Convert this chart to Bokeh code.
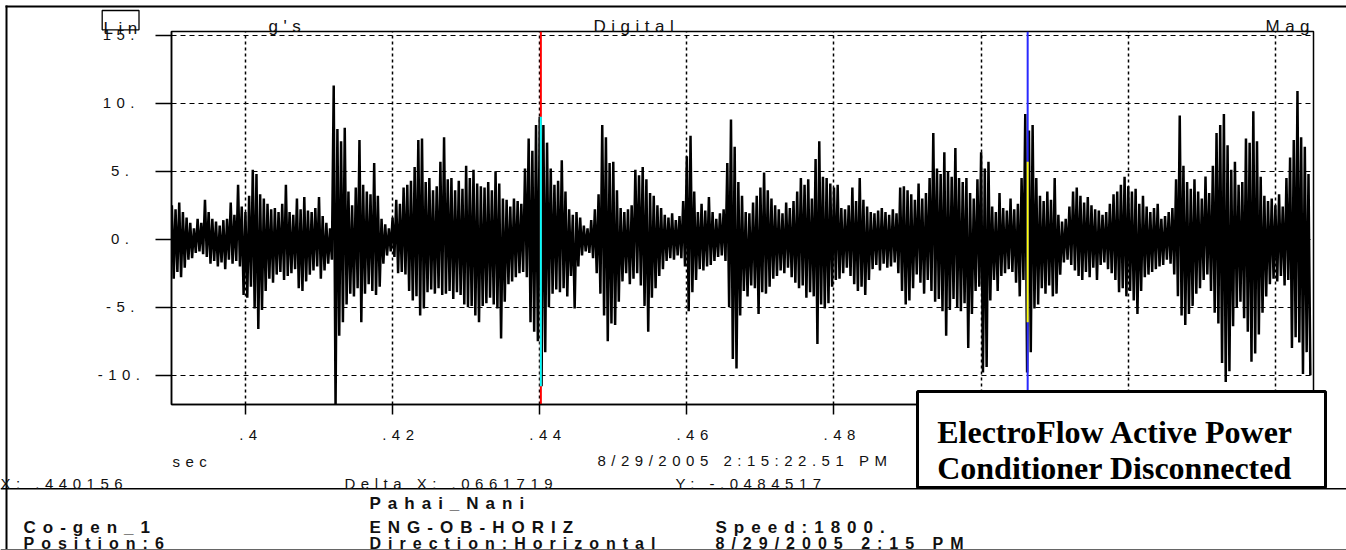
from bokeh.plotting import figure
from bokeh.models import Range1d, FixedTicker, Label, BoxAnnotation
from bokeh.embed import file_html
from bokeh.resources import INLINE

# ---------------- data ----------------
t_start = 0.390          # first envelope column (sec)
t_step = 0.0005          # column spacing (sec)

sig_hi = [
    2.5, 2.2, 2.7, 2.0, 1.6, 1.2, 0.8, 1.5, 1.2, 2.9,
    2.0, 1.5, 1.3, 1.0, 1.4, 1.5, 2.7, 1.8, 4.0, 2.4,
    2.0, 3.2, 5.1, 4.8, 3.3, 3.0, 2.6, 2.2, 2.3, 2.0,
    2.6, 4.0, 2.0, 1.8, 3.0, 2.2, 3.1, 2.1, 2.0, 2.3,
    3.1, 1.7, 1.2, 0.8, 11.3, 8.1, 7.2, 8.2, 3.5, 2.5,
    3.8, 7.3, 4.0, 3.5, 3.3, 5.6, 3.2, 1.5, 1.1, 0.8,
    1.6, 2.9, 2.6, 3.8, 4.0, 4.3, 5.3, 7.3, 7.4, 4.2,
    4.5, 3.6, 3.9, 5.7, 7.5, 4.4, 4.5, 3.6, 4.3, 3.7,
    5.4, 4.5, 5.1, 4.1, 3.9, 3.8, 4.2, 3.6, 5.0, 4.1,
    3.0, 2.9, 2.4, 3.0, 2.8, 2.6, 5.2, 7.4, 6.5, 8.4,
    9.0, 8.4, 7.1, 5.2, 4.0, 4.3, 5.8, 3.5, 2.2, 1.8,
    2.0, 1.6, 1.0, 0.8, 1.4, 2.2, 3.3, 8.4, 7.5, 5.6,
    5.7, 3.6, 2.3, 2.0, 2.2, 2.5, 5.1, 4.7, 5.3, 4.4,
    3.4, 3.2, 2.5, 2.3, 1.8, 1.6, 1.9, 1.4, 1.7, 2.8,
    6.1, 7.6, 3.5, 2.0, 2.6, 2.1, 3.1, 2.0, 1.5, 1.9,
    2.2, 5.6, 8.8, 6.8, 4.2, 3.2, 2.0, 1.9, 2.7, 3.2,
    3.8, 4.9, 3.6, 3.0, 2.5, 2.2, 1.9, 2.7, 2.3, 2.8,
    3.5, 4.5, 4.0, 4.4, 3.0, 5.9, 7.2, 4.6, 4.5, 4.1,
    3.8, 4.0, 2.3, 2.2, 2.5, 3.8, 2.8, 4.5, 2.9, 2.4,
    2.0, 1.9, 2.1, 2.3, 2.0, 1.8, 2.2, 1.9, 3.8, 3.9,
    3.6, 3.3, 2.9, 4.1, 3.0, 3.4, 4.5, 7.8, 5.2, 4.8,
    6.4, 5.0, 4.6, 6.7, 4.5, 4.2, 4.5, 3.4, 3.0, 4.4,
    6.4, 5.2, 5.7, 2.4, 2.0, 3.4, 2.3, 2.1, 3.0, 2.2,
    2.6, 4.5, 9.2, 8.0, 8.4, 4.5, 3.2, 2.8, 3.5, 2.9,
    4.5, 1.8, 1.3, 1.5, 2.4, 3.5, 3.8, 3.2, 2.7, 3.1,
    2.5, 2.2, 2.1, 1.8, 2.0, 2.6, 3.3, 3.5, 4.0, 4.6,
    3.9, 3.5, 3.7, 2.6, 3.2, 2.4, 2.0, 2.3, 2.6, 1.5,
    1.7, 2.0, 2.3, 4.4, 9.1, 5.4, 4.2, 3.7, 4.4, 3.5,
    3.0, 4.6, 3.4, 5.4, 7.8, 8.4, 9.2, 6.9, 5.1, 5.7,
    4.0, 4.2, 7.4, 7.1, 9.4, 7.2, 4.6, 3.2, 2.8, 3.0,
    2.5, 3.3, 2.4, 4.5, 6.0, 7.3, 10.9, 7.5, 6.8, 4.8,
]

sig_lo = [
    -2.9, -2.4, -2.8, -2.1, -1.5, -1.4, -1.0, -0.9, -1.1, -1.3,
    -1.8, -1.6, -2.0, -1.7, -2.2, -1.5, -1.8, -1.6, -2.0, -4.1,
    -4.3, -3.5, -5.1, -6.6, -5.2, -3.8, -2.9, -3.2, -2.6, -2.4,
    -3.0, -2.7, -2.5, -2.2, -3.6, -3.8, -3.1, -2.6, -2.3, -2.0,
    -2.9, -2.3, -1.8, -1.5, -12.5, -7.1, -6.1, -4.8, -4.0, -4.2,
    -3.6, -6.1, -4.0, -3.3, -3.8, -4.1, -3.5, -1.8, -1.2, -0.9,
    -1.3, -2.5, -2.4, -2.6, -3.8, -4.5, -4.2, -5.6, -5.1, -3.9,
    -3.7, -4.0, -3.6, -4.1, -4.0, -3.8, -4.4, -3.9, -4.1, -4.8,
    -5.0, -4.9, -5.6, -6.1, -4.9, -4.7, -4.3, -4.8, -5.1, -7.3,
    -4.6, -3.3, -3.1, -2.8, -2.5, -2.4, -2.8, -6.1, -6.8, -7.5,
    -10.8, -8.3, -5.0, -4.0, -3.7, -3.9, -3.6, -4.2, -2.7, -5.1,
    -2.0, -1.2, -0.9, -1.0, -1.4, -2.5, -4.0, -5.6, -7.5, -6.2,
    -6.3, -4.6, -3.1, -2.5, -3.3, -2.9, -2.5, -3.4, -4.9, -6.8,
    -4.3, -3.6, -2.7, -2.2, -1.6, -1.4, -1.5, -1.2, -1.4, -2.0,
    -5.3, -3.9, -3.0, -2.2, -2.3, -2.0, -1.9, -1.6, -1.3, -1.2,
    -1.6, -5.0, -8.8, -9.5, -5.6, -3.8, -4.2, -3.4, -3.6, -5.5,
    -3.9, -4.0, -3.5, -2.9, -2.7, -2.3, -2.5, -2.1, -2.8, -3.2,
    -3.6, -3.4, -4.3, -3.9, -4.2, -7.7, -4.8, -5.1, -4.7, -3.5,
    -3.0, -2.9, -2.5, -2.1, -2.7, -3.3, -3.8, -3.5, -4.1, -3.0,
    -2.2, -1.9, -2.3, -1.8, -2.1, -2.0, -1.7, -2.5, -3.8, -4.8,
    -4.5, -3.6, -2.6, -3.2, -4.0, -3.0, -3.8, -4.6, -4.4, -5.3,
    -7.1, -5.2, -4.4, -5.0, -5.3, -4.7, -8.0, -5.5, -3.8, -3.5,
    -9.8, -9.4, -4.5, -3.0, -3.8, -2.7, -2.5, -2.2, -2.4, -3.2,
    -4.2, -3.0, -9.8, -8.3, -5.1, -4.8, -3.6, -4.0, -3.4, -4.2,
    -4.0, -2.6, -1.7, -1.5, -1.9, -2.3, -2.7, -3.0, -2.4, -2.8,
    -2.1, -3.0, -1.9, -1.7, -2.2, -2.5, -3.0, -3.9, -3.6, -4.2,
    -3.8, -4.5, -5.5, -3.8, -2.8, -2.6, -2.4, -2.2, -2.0, -1.9,
    -1.5, -1.8, -2.6, -4.2, -5.6, -6.3, -5.5, -4.9, -4.0, -3.6,
    -3.0, -2.6, -3.8, -5.4, -6.2, -9.1, -10.5, -9.7, -6.4, -5.0,
    -4.6, -5.8, -6.8, -9.0, -8.4, -7.0, -5.4, -4.2, -3.3, -2.9,
    -3.1, -2.7, -3.4, -3.0, -8.0, -7.2, -7.6, -9.9, -8.3, -10.0,
]

x_ticks = [0.40, 0.42, 0.44, 0.46, 0.48, 0.50, 0.52, 0.54]
x_tick_labels = [".4", ".42", ".44", ".46", ".48", "", "", ""]
y_ticks = [-10, -5, 0, 5, 10, 15]
y_tick_labels = ["-10.", "-5.", "0.", "5.", "10.", "15."]

cursor_x = 0.440156
delta_x = 0.0661719
cursor_y = -0.0484517
cursor2_x = cursor_x + delta_x
cursor1_mark = (-10.8, 9.0)   # cyan part of first cursor
cursor2_mark = (-6.1, 5.7)    # yellow part of second cursor

# ---------------- layout ----------------
W, H = 1346, 550
FL, FR, FT, FB = 171, 1313, 31, 404
SANS = "Liberation Sans"
SERIF = "Liberation Serif"
xr = Range1d(0.38995, 0.54518)
yr = Range1d(-12.15, 15.27)

main = figure(width=W, height=H, output_backend="svg", toolbar_location=None,
              x_range=xr, y_range=yr,
              min_border_left=FL, min_border_right=W - FR,
              min_border_top=FT, min_border_bottom=H - FB,
              background_fill_color="white", border_fill_color="white",
              outline_line_color="black", outline_line_width=1.5,
              styles={"letter-spacing": "5.5px"})

main.xaxis.ticker = FixedTicker(ticks=x_ticks)
main.xaxis.major_label_overrides = {t: s for t, s in zip(x_ticks, x_tick_labels)}
main.yaxis.ticker = FixedTicker(ticks=y_ticks)
main.yaxis.major_label_overrides = {t: s for t, s in zip(y_ticks, y_tick_labels)}
for ax in (main.xaxis[0], main.yaxis[0]):
    ax.axis_line_color = "black"
    ax.axis_line_width = 1.5
    ax.major_tick_line_color = "black"
    ax.major_tick_line_width = 1.5
    ax.minor_tick_line_color = None
    ax.major_tick_in = 0
    ax.major_label_text_font = SANS
    ax.major_label_text_font_size = "15px"
    ax.major_label_text_color = "#111111"
main.xaxis.major_tick_out = 10
main.xaxis.major_label_standoff = 15
main.yaxis.major_tick_out = 16
main.yaxis.major_label_standoff = 32

main.xgrid.ticker = FixedTicker(ticks=x_ticks)
main.xgrid.grid_line_color = "black"
main.xgrid.grid_line_dash = "3 3"
main.xgrid.grid_line_width = 1.5
main.ygrid.ticker = FixedTicker(ticks=y_ticks)
main.ygrid.grid_line_color = "black"
main.ygrid.grid_line_dash = "5 4"
main.ygrid.grid_line_width = 1.2

# waveform: each envelope column drawn as an up/down stroke
ts, vs = [], []
for k, (hi, lo) in enumerate(zip(sig_hi, sig_lo)):
    t = t_start + k * t_step
    ts += [t, t + t_step / 2]
    vs += [hi, lo]
main.line(ts, vs, line_color="black", line_width=2.5)

# cursors (full-height line, brighter part where it crosses the trace)
for cx, (m0, m1), full_c, mark_c in ((cursor_x, cursor1_mark, "#ff0000", "#00ffff"),
                                     (cursor2_x, cursor2_mark, "#2a2aff", "#ffff00")):
    main.segment(x0=[cx], y0=[yr.start], x1=[cx], y1=[yr.end], line_color=full_c, line_width=2)
    main.segment(x0=[cx], y0=[m0], x1=[cx], y1=[m1], line_color=mark_c, line_width=2)


# transparent full-page overlays (separate roots) whose data coordinates equal page pixels
def overlay(spacing):
    return figure(width=W, height=H, output_backend="svg", toolbar_location=None,
                  x_range=Range1d(0, W), y_range=Range1d(H, 0),
                  x_axis_type=None, y_axis_type=None, min_border=0,
                  min_border_left=0, min_border_right=0,
                  min_border_top=0, min_border_bottom=0,
                  background_fill_color=None, border_fill_color=None,
                  outline_line_color=None,
                  styles={"letter-spacing": spacing, "position": "absolute",
                          "top": "0px", "left": "0px"})


def put(f, x, y, s, size, font=SANS, bold=False, align="left", color="#111111"):
    f.add_layout(Label(x=x, y=y, text=s, text_font=font, text_font_size=size,
                       text_font_style="bold" if bold else "normal", text_align=align,
                       text_baseline="alphabetic", text_color=color))


def box(f, l, r, t, b, fill=None, line=None, lw=1):
    f.add_layout(BoxAnnotation(left=l, right=r, top=t, bottom=b,
                               fill_color=fill if fill else "white",
                               fill_alpha=1 if fill else 0,
                               line_color=line, line_width=lw, line_alpha=1 if line else 0))


hdr = overlay("5.5px")
box(hdr, 5, 1346, 5, 7, fill="black")          # outer top border
box(hdr, 5, 7, 5, 550, fill="black")           # outer left border
box(hdr, 0, 1346, 487.5, 489, fill="black")    # separator
box(hdr, 0, 1346, 548.5, 549.5, fill="#666666")  # bottom edge
put(hdr, 103, 27.5, "Lin", "17px")
box(hdr, 101.7, 138.5, 10, 29.3, line="black", lw=1.3)
put(hdr, 268, 26, "g's", "17px")
put(hdr, 593, 26, "Digital", "17px")
put(hdr, 1265, 26, "Mag", "17px")
put(hdr, 172, 461, "sec", "15px")
put(hdr, 597, 460, "8/29/2005 2:15:22.51 PM", "15px")
put(hdr, 0, 483, "X: " + f"{cursor_x:.6f}"[1:], "15px")
put(hdr, 344, 483, "Delta X: " + f"{delta_x:.7f}"[1:], "15px")
put(hdr, 675, 483, "Y: -" + f"{abs(cursor_y):.7f}"[1:], "15px")

info = overlay("7px")
put(info, 369, 503, "Pahai_Nani", "17px", bold=True)
put(info, 23, 527, "Co-gen_1", "17px", bold=True)
put(info, 369, 527, "ENG-OB-HORIZ", "17px", bold=True)
put(info, 715, 527, "Speed:1800.", "17px", bold=True)
put(info, 23, 542.5, "Position:6", "16px", bold=True)
put(info, 369, 542.5, "Direction:Horizontal", "16px", bold=True)
put(info, 715, 542.5, "8/29/2005 2:15 PM", "16px", bold=True)

note = overlay("0px")
box(note, 917, 1325, 391, 487, fill="white", line="black", lw=3)
put(note, 1115, 431.7, "ElectroFlow Active Power", "32px", font=SERIF,
    bold=True, align="center", color="black")
put(note, 1114, 467.3, "Conditioner Disconnected", "32px", font=SERIF,
    bold=True, align="center", color="black")

open("out.html", "w").write(file_html([main, hdr, info, note], INLINE))
